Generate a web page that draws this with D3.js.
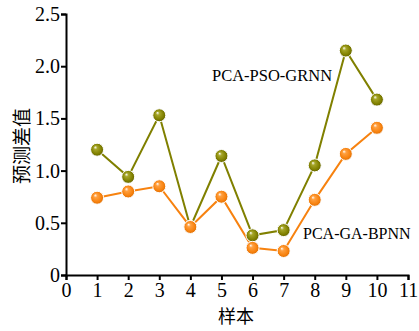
<!DOCTYPE html>
<html>
<head>
<meta charset="utf-8">
<script src="https://cdn.jsdelivr.net/npm/d3@7"></script>
<style>
  body { margin: 0; background: #fff; }
  text { font-family: "Liberation Serif", "Times New Roman", serif; }
</style>
</head>
<body>
<div id="chart"></div>
<script>
// data
const samples = [1, 2, 3, 4, 5, 6, 7, 8, 9, 10];
const psoGrnn = [1.2, 0.94, 1.53, 0.46, 1.14, 0.38, 0.43, 1.05, 2.15, 1.68];
const gaBpnn = [0.74, 0.8, 0.85, 0.46, 0.75, 0.26, 0.23, 0.72, 1.16, 1.41];
const xTicks = [0, 1, 2, 3, 4, 5, 6, 7, 8, 9, 10, 11];
const yTicks = [0, 0.5, 1.0, 1.5, 2.0, 2.5];

const width = 419;
const height = 331;

const svg = d3.select("#chart")
  .append("svg")
  .attr("width", width)
  .attr("height", height);

const x = d3.scaleLinear().domain([0, 11]).range([66, 408]);
const y = d3.scaleLinear().domain([0, 2.5]).range([275, 14]);

// ball-like marker gradients
const defs = svg.append("defs");
function ballGradient(id, light, mid, dark) {
  const g = defs.append("radialGradient")
    .attr("id", id)
    .attr("cx", "50%").attr("cy", "50%").attr("r", "55%")
    .attr("fx", "35%").attr("fy", "30%");
  g.append("stop").attr("offset", "0%").attr("stop-color", "#ffffff");
  g.append("stop").attr("offset", "25%").attr("stop-color", light);
  g.append("stop").attr("offset", "70%").attr("stop-color", mid);
  g.append("stop").attr("offset", "100%").attr("stop-color", dark);
}
ballGradient("ballOlive", "#a6a628", "#808000", "#5c5c00");
ballGradient("ballOrange", "#ffa040", "#f7820f", "#d86a00");

// axes
const xAxis = svg.append("g")
  .attr("transform", "translate(0," + y(0) + ")")
  .call(d3.axisBottom(x).tickValues(xTicks).tickFormat(d3.format("d")).tickSizeOuter(0).tickSize(5));

const yAxis = svg.append("g")
  .attr("transform", "translate(" + x(0) + ",0)")
  .call(d3.axisLeft(y).tickValues(yTicks)
    .tickFormat(d => d === 0 ? "0" : d3.format(".1f")(d)).tickSizeOuter(0).tickSize(5));

[xAxis, yAxis].forEach(function(a) {
  a.selectAll("path, line").attr("stroke", "#000").attr("stroke-width", 2);
  a.selectAll("text")
    .style("font-family", "'Liberation Serif', serif")
    .style("font-size", "20px")
    .attr("fill", "#000");
});
xAxis.selectAll("text").attr("dy", "0.8em").attr("y", 6);
yAxis.selectAll("text").attr("x", -6);

// axis titles
svg.append("text")
  .attr("x", 236)
  .attr("y", 323)
  .attr("text-anchor", "middle")
  .style("font-family", "'Noto Sans CJK SC', serif")
  .style("font-size", "18px")
  .text("样本");

svg.append("text")
  .attr("transform", "translate(29,146) rotate(-90)")
  .attr("text-anchor", "middle")
  .style("font-family", "'Noto Sans CJK SC', serif")
  .style("font-size", "19px")
  .text("预测差值");

// series
const series = [
  { name: "PCA-PSO-GRNN", values: psoGrnn, color: "#808000", grad: "ballOlive" },
  { name: "PCA-GA-BPNN", values: gaBpnn, color: "#f7820f", grad: "ballOrange" }
];

const line = d3.line()
  .x(d => x(d[0]))
  .y(d => y(d[1]));

series.forEach(function(s) {
  const pts = samples.map((v, i) => [v, s.values[i]]);
  svg.append("path")
    .datum(pts)
    .attr("d", line)
    .attr("fill", "none")
    .attr("stroke", s.color)
    .attr("stroke-width", 2);
});

series.forEach(function(s) {
  const pts = samples.map((v, i) => [v, s.values[i]]);
  svg.selectAll(null)
    .data(pts)
    .enter()
    .append("circle")
    .attr("cx", d => x(d[0]))
    .attr("cy", d => y(d[1]))
    .attr("r", 6.5)
    .attr("fill", "url(#" + s.grad + ")")
    .attr("stroke", "#fff")
    .attr("stroke-width", 1);
});

// series labels
svg.append("text")
  .attr("x", 212)
  .attr("y", 81)
  .style("font-size", "16.5px")
  .text("PCA-PSO-GRNN");

svg.append("text")
  .attr("x", 303)
  .attr("y", 239)
  .style("font-size", "16px")
  .text("PCA-GA-BPNN");
</script>
</body>
</html>
